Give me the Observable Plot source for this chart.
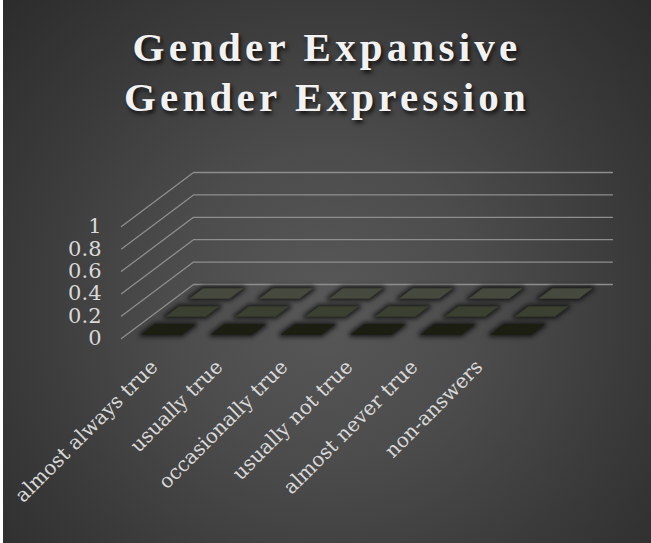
<!DOCTYPE html>
<html><head><meta charset="utf-8">
<script src="https://cdn.jsdelivr.net/npm/d3@7"></script>
<script src="https://cdn.jsdelivr.net/npm/@observablehq/plot@0.6"></script>
<style>
html,body{margin:0;padding:0;background:#fff;}
#chart{position:absolute;left:3px;top:0;width:648px;height:543px;overflow:hidden;
  background:radial-gradient(circle farthest-corner at 50% 56%, #585858 0%, #4c4c4c 35%, #3a3a3a 70%, #2c2c2c 100%);}
#title{height:150px;box-sizing:border-box;padding-top:22px;text-align:center;color:#f2f2f2;
  font-family:"Liberation Serif",serif;font-weight:bold;font-size:41px;line-height:50px;letter-spacing:4.2px;
  text-shadow:2px 3px 4px rgba(0,0,0,0.75);}
svg{display:block;}
</style></head>
<body><div id="chart"><div id="title">Gender Expansive<br>Gender Expression</div></div>
<script>
// ---- data ----
const categories = ["almost always true","usually true","occasionally true","usually not true","almost never true","non-answers"];
const seriesNames = ["Series 1","Series 2","Series 3"]; // front to back
const series1 = [0,0,0,0,0,0];
const series2 = [0,0,0,0,0,0];
const series3 = [0,0,0,0,0,0];
const yTicks = [0,0.2,0.4,0.6,0.8,1];

// ---- style / projection constants ----
const seriesValues = [series1, series2, series3];
const seriesColors = ["#1c1e12","#3b4030","#46493d"];
const KX = 24/69.83, KY = 18/112; // oblique offset per depth row (in x / y data units)
const BW = 0.57, BD = 0.55;       // bar width / depth fractions
const DEPTH = seriesNames.length;
const P = (i, d, v) => ({x: i + d*KX, y: v + d*KY});

// grid
const gridPts = [];
yTicks.forEach(v => {
  [[0,0],[0,DEPTH],[categories.length,DEPTH]].forEach(([i,d]) => gridPts.push({...P(i,d,v), v}));
});

// bars
const tiles = [];
for (let s = DEPTH-1; s >= 0; s--) {
  categories.forEach((c, i) => {
    const v = seriesValues[s][i];
    const i0 = i + (1-BW)/2, i1 = i + (1+BW)/2, d0 = s + (1-BD)/2, d1 = s + (1+BD)/2;
    const id = s + "-" + i;
    [[i0,d0],[i1,d0],[i1,d1],[i0,d1],[i0,d0]].forEach(([a,b]) => tiles.push({...P(a,b,v), id, s}));
    if (v > 0) {
      [[i0,0],[i1,0],[i1,v],[i0,v],[i0,0]].forEach(([a,h]) => tiles.push({...P(a,d0,h), id: id+"f", s}));
      [[d0,0],[d1,0],[d1,v],[d0,v],[d0,0]].forEach(([b,h]) => tiles.push({...P(i1,b,h), id: id+"r", s}));
    }
  });
}

const marks = [
  Plot.line(gridPts, {x:"x", y:"y", z:"v", stroke:"#8e8e8e", strokeWidth:1.3}),
];
for (let s = DEPTH-1; s >= 0; s--) {
  const pts = tiles.filter(t => t.s === s);
  marks.push(Plot.line(pts, {x:"x", y:"y", z:"id", stroke:"#121212", strokeWidth:6, strokeOpacity:0.65,
    fill:"#121212"}));
  marks.push(Plot.line(pts, {x:"x", y:"y", z:"id", fill:seriesColors[s], stroke:seriesColors[s], strokeWidth:0.5}));
}
marks.push(Plot.text(yTicks, {x: () => 0, y: d => d, text: d => String(d), textAnchor:"end", dx:-20,
  fill:"#d9d9d9", fontSize:21, fontFamily:"DejaVu Serif"}));
const LABEL_OFFSET = 0.44, LABEL_STEP = 0.931;
marks.push(Plot.text(categories, {x: (d,i) => LABEL_OFFSET + i*LABEL_STEP, y: () => 0, text: d => d,
  rotate:-45, textAnchor:"end", dx:2, dy:25, fill:"#d9d9d9", fontSize:20, fontFamily:"DejaVu Serif"}));

const svg = Plot.plot({
  width: 648, height: 393, margin: 0,
  x: {type:"linear", domain:[0,6], range:[118,537], axis:null},
  y: {type:"linear", domain:[0,1], range:[188,76], axis:null},
  style: {background:"transparent", overflow:"visible"},
  marks
});
svg.querySelectorAll('g[stroke-width="6"]').forEach(g => g.style.filter = "blur(2px)");
document.getElementById("chart").appendChild(svg);
</script>
</body></html>
